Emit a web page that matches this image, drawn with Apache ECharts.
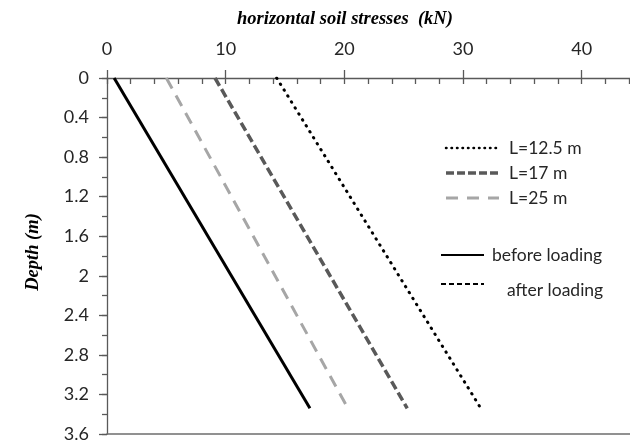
<!DOCTYPE html>
<html>
<head>
<meta charset="utf-8">
<script src="https://cdn.jsdelivr.net/npm/echarts@6/dist/echarts.min.js"></script>
<style>html,body{margin:0;padding:0;background:#fff}#c{width:630px;height:444px}</style>
</head>
<body>
<div id="c"></div>
<script>
// Data
const depth = [0, 3.34];
const beforeLoading = [0.6, 17.1];
const L12_5 = [14.3, 31.5];
const L17 = [9.1, 25.3];
const L25 = [5.0, 20.3];
const xTicks = [0, 10, 20, 30, 40];
const yTicks = [0, 0.4, 0.8, 1.2, 1.6, 2, 2.4, 2.8, 3.2, 3.6];
const xTitle = 'horizontal soil stresses  (kN)';
const yTitle = 'Depth (m)';
const legendNames = ['L=12.5 m', 'L=17 m', 'L=25 m', 'before loading', 'after loading'];

const pairs = (xs) => xs.map((v, i) => [v, depth[i]]);
const axisCol = '#595959';
const tickFont = { fontFamily: 'Lato', fontSize: 18, color: '#262626' };
const legFont = '17.5px Lato';

const chart = echarts.init(document.getElementById('c'), null, { renderer: 'canvas' });
const legendY = [148, 173, 198, 255, 284];
chart.setOption({
  animation: false,
  backgroundColor: '#fff',
  grid: { left: 107, top: 78, width: 534, bottom: 10, containLabel: false, outerBoundsMode: 'none' },
  xAxis: [
    { type: 'value', position: 'top', min: 0, max: 45, interval: 10,
      axisLine: { show: true, lineStyle: { color: axisCol, width: 1.3 } },
      axisTick: { show: true, inside: false, length: 8, lineStyle: { color: axisCol, width: 1.3 } },
      minorTick: { show: false },
      splitLine: { show: false },
      axisLabel: Object.assign({ margin: 20, formatter: v => xTicks.includes(v) ? String(v) : '' }, tickFont) },
    { type: 'value', position: 'top', min: 0, max: 45, interval: 10, gridIndex: 0,
      axisLine: { show: false },
      axisTick: { show: true, inside: true, length: 6, lineStyle: { color: axisCol, width: 1.3 } },
      minorTick: { show: true, splitNumber: 5, length: 6, lineStyle: { color: axisCol, width: 1.3 } },
      splitLine: { show: false }, axisLabel: { show: false } },
    { type: 'value', position: 'bottom', min: 0, max: 45, gridIndex: 0,
      axisLine: { show: true, lineStyle: { color: '#6e6e6e', width: 1.5 } },
      axisTick: { show: false }, splitLine: { show: false }, axisLabel: { show: false } }
  ],
  yAxis: [
    { type: 'value', inverse: true, min: 0, max: 3.6, interval: 0.4,
      axisLine: { show: true, lineStyle: { color: axisCol, width: 1.3 } },
      axisTick: { show: true, inside: false, length: 8, lineStyle: { color: axisCol, width: 1.3 } },
      splitLine: { show: false },
      axisLabel: Object.assign({ margin: 18, formatter: v => {
        const m = yTicks.find(t => Math.abs(t - v) < 1e-6);
        return m === undefined ? '' : String(m);
      } }, tickFont) },
    { type: 'value', inverse: true, min: 0, max: 3.6, interval: 0.4,
      axisLine: { show: false },
      axisTick: { show: true, inside: true, length: 5, lineStyle: { color: axisCol, width: 1.3 } },
      minorTick: { show: true, splitNumber: 2, length: 5, lineStyle: { color: axisCol, width: 1.3 } },
      splitLine: { show: false }, axisLabel: { show: false } }
  ],
  series: [
    { name: legendNames[3], type: 'line', data: pairs(beforeLoading), showSymbol: false,
      lineStyle: { color: '#000', width: 3, type: 'solid' } },
    { name: legendNames[2], type: 'line', data: pairs(L25), showSymbol: false,
      lineStyle: { color: '#a6a6a6', width: 3, type: [12, 8] } },
    { name: legendNames[1], type: 'line', data: pairs(L17), showSymbol: false,
      lineStyle: { color: '#595959', width: 3.5, type: [9, 4] } },
    { name: legendNames[0], type: 'line', data: pairs(L12_5), showSymbol: false,
      lineStyle: { color: '#000', width: 3, type: [0.5, 6.5], cap: 'round' } }
  ],
  graphic: [
    { type: 'text', left: 237, top: 10, style: { text: xTitle, font: 'italic bold 18.5px "Liberation Serif"', fill: '#000' } },
    { type: 'text', x: 33, y: 252, rotation: Math.PI / 2, style: { text: yTitle, font: 'italic bold 18.5px "Liberation Serif"', fill: '#000', align: 'center', verticalAlign: 'middle' } },
    { type: 'line', shape: { x1: 446, y1: legendY[0], x2: 499, y2: legendY[0] }, style: { stroke: '#000', lineWidth: 2.5, lineDash: [0.5, 5], lineCap: 'round' } },
    { type: 'line', shape: { x1: 446, y1: legendY[1], x2: 499, y2: legendY[1] }, style: { stroke: '#595959', lineWidth: 3.5, lineDash: [8, 3] } },
    { type: 'line', shape: { x1: 446, y1: legendY[2], x2: 499, y2: legendY[2] }, style: { stroke: '#a6a6a6', lineWidth: 3, lineDash: [12, 9] } },
    { type: 'line', shape: { x1: 441, y1: legendY[3], x2: 484, y2: legendY[3] }, style: { stroke: '#000', lineWidth: 2 } },
    { type: 'line', shape: { x1: 441, y1: legendY[4], x2: 484, y2: legendY[4] }, style: { stroke: '#000', lineWidth: 2, lineDash: [5, 3] } },
    { type: 'text', x: 509, y: legendY[0], style: { text: legendNames[0], font: legFont, fill: '#262626', verticalAlign: 'middle' } },
    { type: 'text', x: 509, y: legendY[1], style: { text: legendNames[1], font: legFont, fill: '#262626', verticalAlign: 'middle' } },
    { type: 'text', x: 509, y: legendY[2], style: { text: legendNames[2], font: legFont, fill: '#262626', verticalAlign: 'middle' } },
    { type: 'text', x: 492, y: legendY[3], style: { text: legendNames[3], font: legFont, fill: '#262626', verticalAlign: 'middle' } },
    { type: 'text', x: 507, y: 290, style: { text: legendNames[4], font: legFont, fill: '#262626', verticalAlign: 'middle' } }
  ]
});
</script>
</body>
</html>
